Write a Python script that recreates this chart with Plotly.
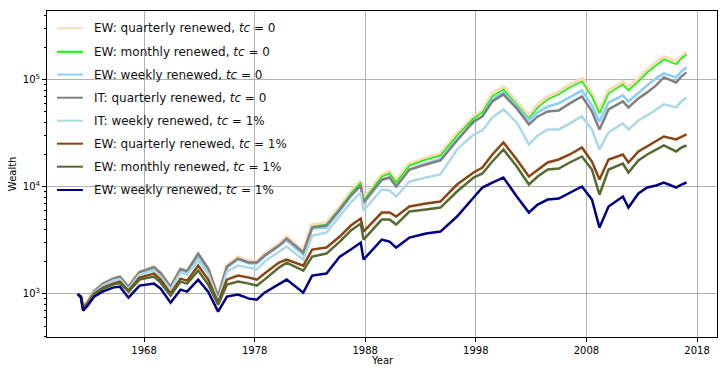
import plotly.graph_objects as go

# sample dates
dates = [
    "1962-01-02", "1962-04-20", "1962-07-01", "1962-11-24", "1963-07-01",
    "1964-04-20", "1965-03-15", "1965-10-20", "1966-08-07", "1967-08-07",
    "1968-11-24", "1969-07-01", "1970-05-27", "1971-04-20", "1971-11-24",
    "1972-11-24", "1973-10-20", "1974-09-13", "1975-07-01", "1976-07-01",
    "1977-07-01", "1978-03-15", "1978-11-24", "1980-03-15", "1980-11-24",
    "1982-05-27", "1983-03-15", "1984-07-01", "1985-09-13", "1986-09-13",
    "1987-08-07", "1987-11-07", "1989-07-01", "1990-03-15", "1990-10-20",
    "1992-01-02", "1993-07-01", "1994-10-20", "1996-04-20", "1997-10-20",
    "1998-08-07", "1999-07-01", "2000-07-01", "2001-09-13", "2002-10-20",
    "2003-08-07", "2004-07-01", "2005-07-01", "2006-07-01", "2007-08-07",
    "2008-07-01", "2009-03-09", "2010-01-02", "2011-04-20", "2011-10-20",
    "2012-09-13", "2013-07-01", "2014-04-20", "2015-01-02", "2016-02-11",
    "2016-08-07", "2017-01-20",
]

ew_q_tc0 = [
    1000, 944, 745, 829, 1051, 1222, 1360, 1420, 1145, 1581,
    1761, 1548, 1145, 1687, 1616, 2280, 1687, 923, 1799, 2184,
    2004, 2004, 2330, 2889, 3358, 2485, 4348, 4539, 6404, 8845,
    11206, 7608, 12750, 13600, 11206, 16154, 18380, 20032, 30803, 44416,
    50538, 72874, 84727, 61343, 45383, 57506, 68316, 76080, 88450, 100600,
    72874, 50538, 77736, 94320, 82922, 100600, 122120, 141950, 161510, 145040,
    165020, 179870,
]
ew_m_tc0 = [
    1000, 944, 745, 829, 1039, 1209, 1345, 1405, 1133, 1565,
    1742, 1531, 1133, 1669, 1598, 2255, 1669, 914, 1780, 2137,
    1961, 1961, 2280, 2827, 3287, 2432, 4255, 4442, 6268, 8656,
    10967, 7446, 12478, 13310, 10967, 15810, 17989, 19606, 30147, 43470,
    49461, 69803, 81156, 58758, 43470, 55083, 65437, 72874, 84727, 96372,
    69803, 48408, 74460, 90376, 79428, 96372, 116970, 135970, 154700, 138930,
    158070, 172290,
]
ew_w_tc0 = [
    1000, 944, 737, 829, 1039, 1209, 1345, 1405, 1133, 1565,
    1724, 1515, 1121, 1651, 1581, 2231, 1651, 904, 1761, 2092,
    1919, 1919, 2231, 2767, 3148, 2330, 4076, 4164, 5876, 8115,
    10283, 6980, 11450, 12212, 10064, 14506, 16505, 17989, 27664, 39885,
    45383, 65437, 76080, 56281, 41640, 49461, 56281, 60036, 68316, 79428,
    57506, 40753, 61343, 71322, 62678, 76080, 88450, 102800, 114480, 105040,
    119520, 130240,
]
it_q_tc0 = [
    1000, 944, 761, 838, 1062, 1248, 1390, 1451, 1170, 1598,
    1780, 1565, 1170, 1705, 1633, 2380, 1724, 944, 1799, 2137,
    1961, 1961, 2280, 2827, 3287, 2432, 4164, 4348, 6135, 8292,
    10283, 7132, 11699, 12212, 10064, 14506, 16154, 17606, 27075, 40753,
    45383, 62678, 72874, 53909, 38204, 45383, 50538, 51638, 60036, 69803,
    50538, 34300, 52761, 62678, 55083, 66861, 76080, 88450, 105040, 94320,
    107330, 116970,
]
it_w_tc1 = [
    1000, 944, 729, 812, 1028, 1196, 1331, 1375, 1109, 1515,
    1651, 1451, 1097, 1581, 1515, 2047, 1548, 866, 1616, 1838,
    1761, 1687, 2004, 2485, 2767, 2092, 3506, 3740, 5277, 7132,
    8845, 6004, 9435, 9235, 8115, 11206, 12212, 13027, 22308, 30803,
    33570, 44416, 52761, 39885, 24842, 30147, 34300, 34300, 39036, 45383,
    34300, 22308, 32157, 39036, 34300, 41640, 46370, 52761, 58758, 55083,
    62678, 68316,
]
ew_q_tc1 = [
    1000, 944, 721, 812, 1006, 1145, 1248, 1303, 1074, 1420,
    1548, 1360, 1006, 1390, 1331, 1838, 1360, 829, 1360, 1483,
    1420, 1360, 1548, 1961, 2092, 1838, 2594, 2708, 3431, 4348,
    5054, 3821, 5751, 5751, 5277, 6544, 6980, 7287, 10506, 13600,
    15144, 20032, 25934, 17989, 12478, 14506, 16864, 17989, 20032, 23288,
    17231, 11699, 17989, 20032, 16864, 21368, 23795, 26498, 29505, 27664,
    29505, 30803,
]
ew_m_tc1 = [
    1000, 944, 713, 794, 985, 1121, 1222, 1261, 1051, 1360,
    1451, 1275, 964, 1303, 1248, 1651, 1222, 794, 1222, 1303,
    1248, 1196, 1360, 1761, 1961, 1651, 2231, 2380, 3081, 3904,
    4539, 3217, 4946, 4946, 4442, 5876, 6135, 6404, 9037, 12212,
    13310, 17231, 22308, 15473, 10506, 12478, 14506, 14821, 16864, 19188,
    14506, 8472, 14506, 16505, 13600, 17606, 20032, 22308, 24313, 21368,
    23288, 24313,
]
ew_w_tc1 = [
    1000, 923, 698, 777, 944, 1058, 1145, 1170, 923, 1196,
    1248, 1121, 829, 1097, 1051, 1360, 1051, 683, 944, 985,
    904, 885, 1028, 1248, 1360, 1028, 1483, 1548, 2231, 2594,
    3016, 2092, 3217, 3081, 2708, 3358, 3660, 3821, 5277, 7942,
    9849, 10967, 12212, 8115, 5751, 6832, 7608, 7773, 8845, 10064,
    7608, 4164, 6544, 8115, 6404, 8656, 9849, 10283, 10967, 9849,
    10506, 10967,
]

labels = [
    "EW: quarterly renewed, <i>tc</i> = 0",
    "EW: monthly renewed, <i>tc</i> = 0",
    "EW: weekly renewed, <i>tc</i> = 0",
    "IT: quarterly renewed, <i>tc</i> = 0",
    "IT: weekly renewed, <i>tc</i> = 1%",
    "EW: quarterly renewed, <i>tc</i> = 1%",
    "EW: monthly renewed, <i>tc</i> = 1%",
    "EW: weekly renewed, <i>tc</i> = 1%",
]
series = [ew_q_tc0, ew_m_tc0, ew_w_tc0, it_q_tc0, it_w_tc1, ew_q_tc1, ew_m_tc1, ew_w_tc1]
colors = ["#FFDAB9", "#00FF00", "#87CEFA", "#808080", "#ADD8E6", "#8B4513", "#556B2F", "#000080"]
widths = [4.5, 1.5, 2.5, 2.5, 2.5, 2.5, 2.5, 2.5]

year_ticks = ["1968", "1978", "1988", "1998", "2008", "2018"]

fig = go.Figure()
for lab, ys, col, w in zip(labels, series, colors, widths):
    fig.add_trace(go.Scatter(x=dates, y=ys, mode="lines", name=lab,
                             line=dict(color=col, width=w), showlegend=False))

# hand-made legend (matplotlib-like spacing)
row_y = [0.947, 0.875, 0.805, 0.734, 0.6635, 0.593, 0.5224, 0.4509]
for lab, col, yy in zip(labels, colors, row_y):
    fig.add_shape(type="line", xref="paper", yref="paper",
                  x0=0.0149, x1=0.0537, y0=yy, y1=yy,
                  line=dict(color=col, width=2))
    fig.add_annotation(text=lab, xref="paper", yref="paper", x=0.0672, y=yy,
                       xanchor="left", yanchor="middle", showarrow=False,
                       font=dict(size=12, color="#111"))

fig.add_annotation(text="Wealth", xref="paper", yref="paper", x=-0.052, y=0.5,
                   textangle=-90, xanchor="center", yanchor="middle",
                   showarrow=False, font=dict(size=10, color="#000"))
fig.add_annotation(text="Year", xref="paper", yref="paper", x=0.5, y=-0.0736,
                   xanchor="center", yanchor="middle",
                   showarrow=False, font=dict(size=10, color="#000"))

minor_vals = [m * 10 ** e for e in range(2, 6) for m in range(2, 10)]

fig.update_layout(
    width=727, height=375,
    margin=dict(l=47, r=10, t=11, b=38),
    paper_bgcolor="white", plot_bgcolor="white",
    font=dict(family="DejaVu Sans", size=10, color="#000"),
    xaxis=dict(
        type="date", range=["1959-03-25", "2019-10-23"],
        tickvals=[y + "-01-01" for y in year_ticks], ticktext=year_ticks,
        showgrid=True, gridcolor="#b0b0b0", gridwidth=1,
        showline=True, linecolor="black", linewidth=1, mirror=True,
        ticks="outside", ticklen=4, tickcolor="black", tickwidth=1,
        zeroline=False,
    ),
    yaxis=dict(
        type="log", range=[2.598, 5.641],
        tickvals=[1e3, 1e4, 1e5],
        ticktext=["10<sup>3</sup>", "10<sup>4</sup>", "10<sup>5</sup>"],
        showgrid=True, gridcolor="#b0b0b0", gridwidth=1,
        showline=True, linecolor="black", linewidth=1, mirror=True,
        ticks="outside", ticklen=4, tickcolor="black", tickwidth=1,
        minor=dict(tickvals=minor_vals, ticks="outside", ticklen=2,
                   tickcolor="black", tickwidth=0.6, showgrid=False),
        zeroline=False,
    ),
)

# page body margin would shift the figure inside the 727x375 window
fig.write_html("out.html", config={"displayModeBar": False},
               post_script="document.body.style.margin='0px';")
